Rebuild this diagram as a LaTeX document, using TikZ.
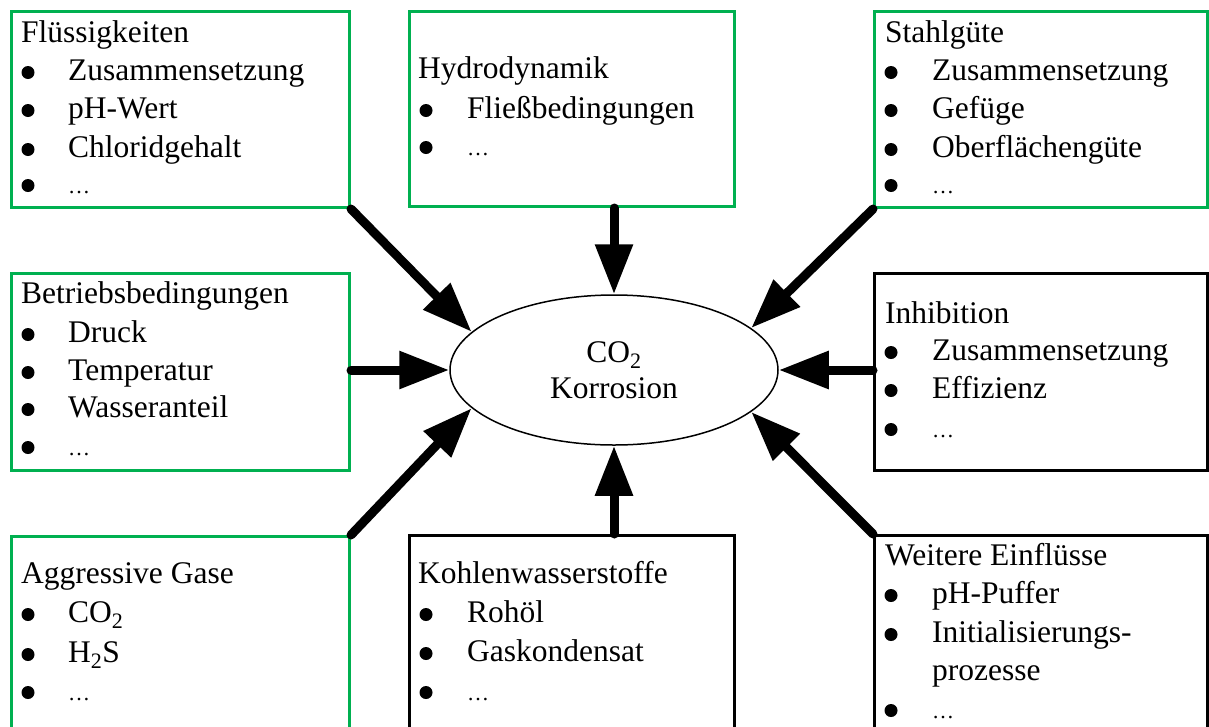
\documentclass[tikz,border=0pt]{standalone}
\usepackage{fontspec}
\setmainfont{Liberation Serif}
\usetikzlibrary{arrows.meta,shapes.geometric}
\definecolor{boxgreen}{RGB}{0,176,80}
\tikzset{
  gbox/.style={draw=boxgreen,line width=3pt,anchor=north west,inner sep=0pt,fill=white},
  kbox/.style={draw=black,line width=3pt,anchor=north west,inner sep=0pt,fill=white},
  txt/.style={anchor=base west,inner sep=0pt,font=\fontsize{31.5}{38}\selectfont},
  ctxt/.style={anchor=base,inner sep=0pt,font=\fontsize{31.5}{38}\selectfont},
  bul/.style={circle,fill=black,inner sep=0pt,minimum size=13pt,yshift=7.5pt},
  dts/.style={anchor=base west,inner sep=0pt,font=\fontsize{22}{26}\selectfont},
  bigarrow/.style={line width=9pt,line cap=round,-{Triangle[length=50pt,width=36pt]}}
}
\begin{document}
\begin{tikzpicture}[x=1pt,y=-1pt]
\useasboundingbox (0,0) rectangle (1209,726);
\clip (0,0) rectangle (1209,726);
% boxes
\node[gbox,minimum width=338pt,minimum height=196pt] (b1) at (10,10) {};
\node[gbox,minimum width=325pt,minimum height=195pt] (b2) at (408,10) {};
\node[gbox,minimum width=333pt,minimum height=196pt] (b3) at (873,10) {};
\node[gbox,minimum width=338pt,minimum height=197pt] (b4) at (10,272) {};
\node[kbox,minimum width=333pt,minimum height=197pt] (b5) at (873,272) {};
\node[gbox,minimum width=338pt,minimum height=220pt] (b6) at (10,535) {};
\node[kbox,minimum width=325pt,minimum height=220pt] (b7) at (408,534) {};
\node[kbox,minimum width=333pt,minimum height=220pt] (b8) at (873,534) {};
% ellipse
\node[draw,ellipse,line width=1.5pt,minimum width=328pt,minimum height=150pt,inner sep=0pt,fill=white] (e) at (614,370) {};
\node[ctxt] (e1) at (614,362) {CO\textsubscript{2}};
\node[ctxt] (e2) at (614,398) {Korrosion};
% box 1
\node[txt] (t1) at (21,42) {Flüssigkeiten};
\node[bul] (p11) at (28,80) {}; \node[txt] (i11) at (68,80) {Zusammensetzung};
\node[bul] (p12) at (28,118) {}; \node[txt] (i12) at (68,118) {pH-Wert};
\node[bul] (p13) at (28,157) {}; \node[txt] (i13) at (68,157) {Chloridgehalt};
\node[bul] (p14) at (28,193) {}; \node[dts] (i14) at (68,193) {…};
% box 2
\node[txt] (t2) at (418,78) {Hydrodynamik};
\node[bul] (p21) at (426,118) {}; \node[txt] (i21) at (467,118) {Fließbedingungen};
\node[bul] (p22) at (426,155) {}; \node[dts] (i22) at (467,155) {…};
% box 3
\node[txt] (t3) at (885,42) {Stahlgüte};
\node[bul] (p31) at (891,80) {}; \node[txt] (i31) at (932,80) {Zusammensetzung};
\node[bul] (p32) at (891,118) {}; \node[txt] (i32) at (932,118) {Gefüge};
\node[bul] (p33) at (891,157) {}; \node[txt] (i33) at (932,157) {Oberflächengüte};
\node[bul] (p34) at (891,193) {}; \node[dts] (i34) at (932,193) {…};
% box 4
\node[txt] (t4) at (21,303) {Betriebsbedingungen};
\node[bul] (p41) at (28,342) {}; \node[txt] (i41) at (68,342) {Druck};
\node[bul] (p42) at (28,380) {}; \node[txt] (i42) at (68,380) {Temperatur};
\node[bul] (p43) at (28,417) {}; \node[txt] (i43) at (68,417) {Wasseranteil};
\node[bul] (p44) at (28,455) {}; \node[dts] (i44) at (68,455) {…};
% box 5
\node[txt] (t5) at (885,323) {Inhibition};
\node[bul] (p51) at (891,360) {}; \node[txt] (i51) at (932,360) {Zusammensetzung};
\node[bul] (p52) at (891,398) {}; \node[txt] (i52) at (932,398) {Effizienz};
\node[bul] (p53) at (891,437) {}; \node[dts] (i53) at (932,437) {…};
% box 6
\node[txt] (t6) at (21,583) {Aggressive Gase};
\node[bul] (p61) at (28,622) {}; \node[txt] (i61) at (68,622) {CO\textsubscript{2}};
\node[bul] (p62) at (28,662) {}; \node[txt] (i62) at (68,662) {H\textsubscript{2}S};
\node[bul] (p63) at (28,700) {}; \node[dts] (i63) at (68,700) {…};
% box 7
\node[txt] (t7) at (418,583) {Kohlenwasserstoffe};
\node[bul] (p71) at (426,622) {}; \node[txt] (i71) at (467,622) {Rohöl};
\node[bul] (p72) at (426,661) {}; \node[txt] (i72) at (467,661) {Gaskondensat};
\node[bul] (p73) at (426,700) {}; \node[dts] (i73) at (467,700) {…};
% box 8
\node[txt] (t8) at (885,565) {Weitere Einflüsse};
\node[bul] (p81) at (891,603) {}; \node[txt] (i81) at (932,603) {pH-Puffer};
\node[bul] (p82) at (891,642) {}; \node[txt] (i82) at (932,642) {Initialisierungs-};
\node[txt] (i83) at (932,680) {prozesse};
\node[bul] (p84) at (891,718) {}; \node[dts] (i84) at (932,718) {…};
% arrows
\draw[bigarrow] (b1.south east) -- (e.165);
\draw[bigarrow] (b2.south -| e.north) -- (e.north);
\draw[bigarrow] (b3.south west) -- (e.17);
\draw[bigarrow] (b4.east |- e.west) -- (e.west);
\draw[bigarrow] (b5.west |- e.east) -- (e.east);
\draw[bigarrow] (b6.north east) -- (e.195);
\draw[bigarrow] (b7.north -| e.south) -- (e.south);
\draw[bigarrow] (b8.north west) -- (e.343);
\end{tikzpicture}
\end{document}
